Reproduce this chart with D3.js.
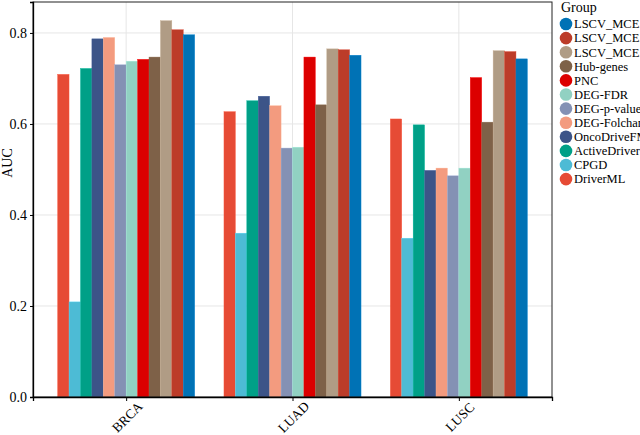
<!DOCTYPE html>
<html><head><meta charset="utf-8">
<script src="https://cdn.jsdelivr.net/npm/d3@7"></script>
<style>body{margin:0;background:#fff}svg{display:block}text{font-family:"Liberation Serif","Times New Roman",serif;fill:#000}</style>
</head><body><svg id="c" width="640" height="435"></svg>
<script>
const categories = ["BRCA","LUAD","LUSC"];
const groups = ["DriverML","CPGD","ActiveDriver","OncoDriveFM","DEG-Folchange","DEG-p-value","DEG-FDR","PNC","Hub-genes","LSCV_MCE.3","LSCV_MCE.2","LSCV_MCE.1"];
const colors = ["#E64B35","#4DBBD5","#00A087","#3C5488","#F39B7F","#8491B4","#91D1C2","#DC0000","#7E6148","#B09C85","#BC3C29","#0072B5"];
const valuesBRCA = [0.709,0.209,0.722,0.787,0.790,0.730,0.738,0.742,0.747,0.827,0.807,0.796];
const valuesLUAD = [0.627,0.360,0.651,0.661,0.640,0.547,0.549,0.747,0.642,0.765,0.763,0.751];
const valuesLUSC = [0.611,0.349,0.598,0.498,0.503,0.486,0.503,0.702,0.604,0.761,0.759,0.743];
const yTicks = [0,0.2,0.4,0.6,0.8];
const yTickLabels = ["0.0","0.2","0.4","0.6","0.8"];
const legendTitle = "Group";
const yTitle = "AUC";

const series = {BRCA: valuesBRCA, LUAD: valuesLUAD, LUSC: valuesLUSC};
const svg = d3.select("#c");
const L = 33, R = 552, T = 2, B = 397;

const y = d3.scaleLinear().domain([0, 0.868]).range([B, T]);
const x = d3.scalePoint().domain(categories).range([L, R]).padding(0.56);
const gw = x.step() * 0.824;
const xs = d3.scaleBand().domain(groups).range([-gw/2, gw/2]).padding(0);

// grid
svg.append("g").selectAll("line").data(yTicks.slice(1)).join("line")
  .attr("x1", L).attr("x2", R).attr("y1", d => y(d)).attr("y2", d => y(d))
  .attr("stroke", "#e6e6e6").attr("stroke-width", 1);
svg.append("g").selectAll("line").data(categories).join("line")
  .attr("x1", d => x(d)).attr("x2", d => x(d)).attr("y1", T).attr("y2", B)
  .attr("stroke", "#e6e6e6").attr("stroke-width", 1);

// bars
categories.forEach(cat => {
  svg.append("g").attr("transform", `translate(${x(cat)},0)`)
    .selectAll("rect").data(groups.map((g, i) => ({g, v: series[cat][i], c: colors[i]}))).join("rect")
    .attr("x", d => xs(d.g)).attr("width", xs.bandwidth())
    .attr("y", d => y(d.v)).attr("height", d => y(0) - y(d.v))
    .attr("fill", d => d.c).attr("stroke", d => d3.color(d.c).brighter(0.4)).attr("stroke-width", 0.4);
});

// border
svg.append("rect").attr("x", L).attr("y", T).attr("width", R - L).attr("height", B - T)
  .attr("fill", "none").attr("stroke", "#222").attr("stroke-width", 1);

// y axis
const ya = d3.axisLeft(y).tickValues(yTicks).tickFormat((d, i) => yTickLabels[i]).tickSize(3).tickPadding(3);
const gy = svg.append("g").attr("transform", `translate(${L},0)`).call(ya);
gy.select(".domain").attr("stroke", "#000").attr("stroke-width", 1.3);
gy.selectAll(".tick line").attr("stroke", "#000");
gy.selectAll(".tick text").style("font-family", '"Liberation Serif",serif').style("font-size", "14px").attr("fill", "#000");

// x axis
const xa = d3.axisBottom(x).tickSize(4).tickFormat("");
const gx = svg.append("g").attr("transform", `translate(0,${B})`).call(xa);
gx.select(".domain").attr("stroke", "#000").attr("stroke-width", 1.3);
gx.selectAll(".tick line").attr("stroke", "#000");
svg.append("g").selectAll("text").data(categories).join("text")
  .attr("transform", d => `translate(${x(d) + 1},${417}) rotate(-45)`)
  .attr("text-anchor", "middle").attr("dy", "0.35em").style("font-size", "13.5px").text(d => d);

// y title
svg.append("text").attr("transform", `translate(7,163) rotate(-90)`)
  .attr("text-anchor", "middle").attr("dy", "0.35em").style("font-size", "14px").text(yTitle);

// legend
const lg = svg.append("g");
lg.append("text").attr("x", 561).attr("y", 7).attr("dy", "0.35em").style("font-size", "14px").text(legendTitle);
const items = groups.map((g, i) => ({g, c: colors[i]})).reverse();
const row = lg.selectAll("g.item").data(items).join("g").attr("class", "item")
  .attr("transform", (d, i) => `translate(0,${24 + i * 14.1})`);
row.append("circle").attr("cx", 566).attr("cy", 0).attr("r", 6.3).attr("fill", d => d.c);
row.append("text").attr("x", 574).attr("y", 0).attr("dy", "0.35em").style("font-size", "12.5px").text(d => d.g);
</script></body></html>
